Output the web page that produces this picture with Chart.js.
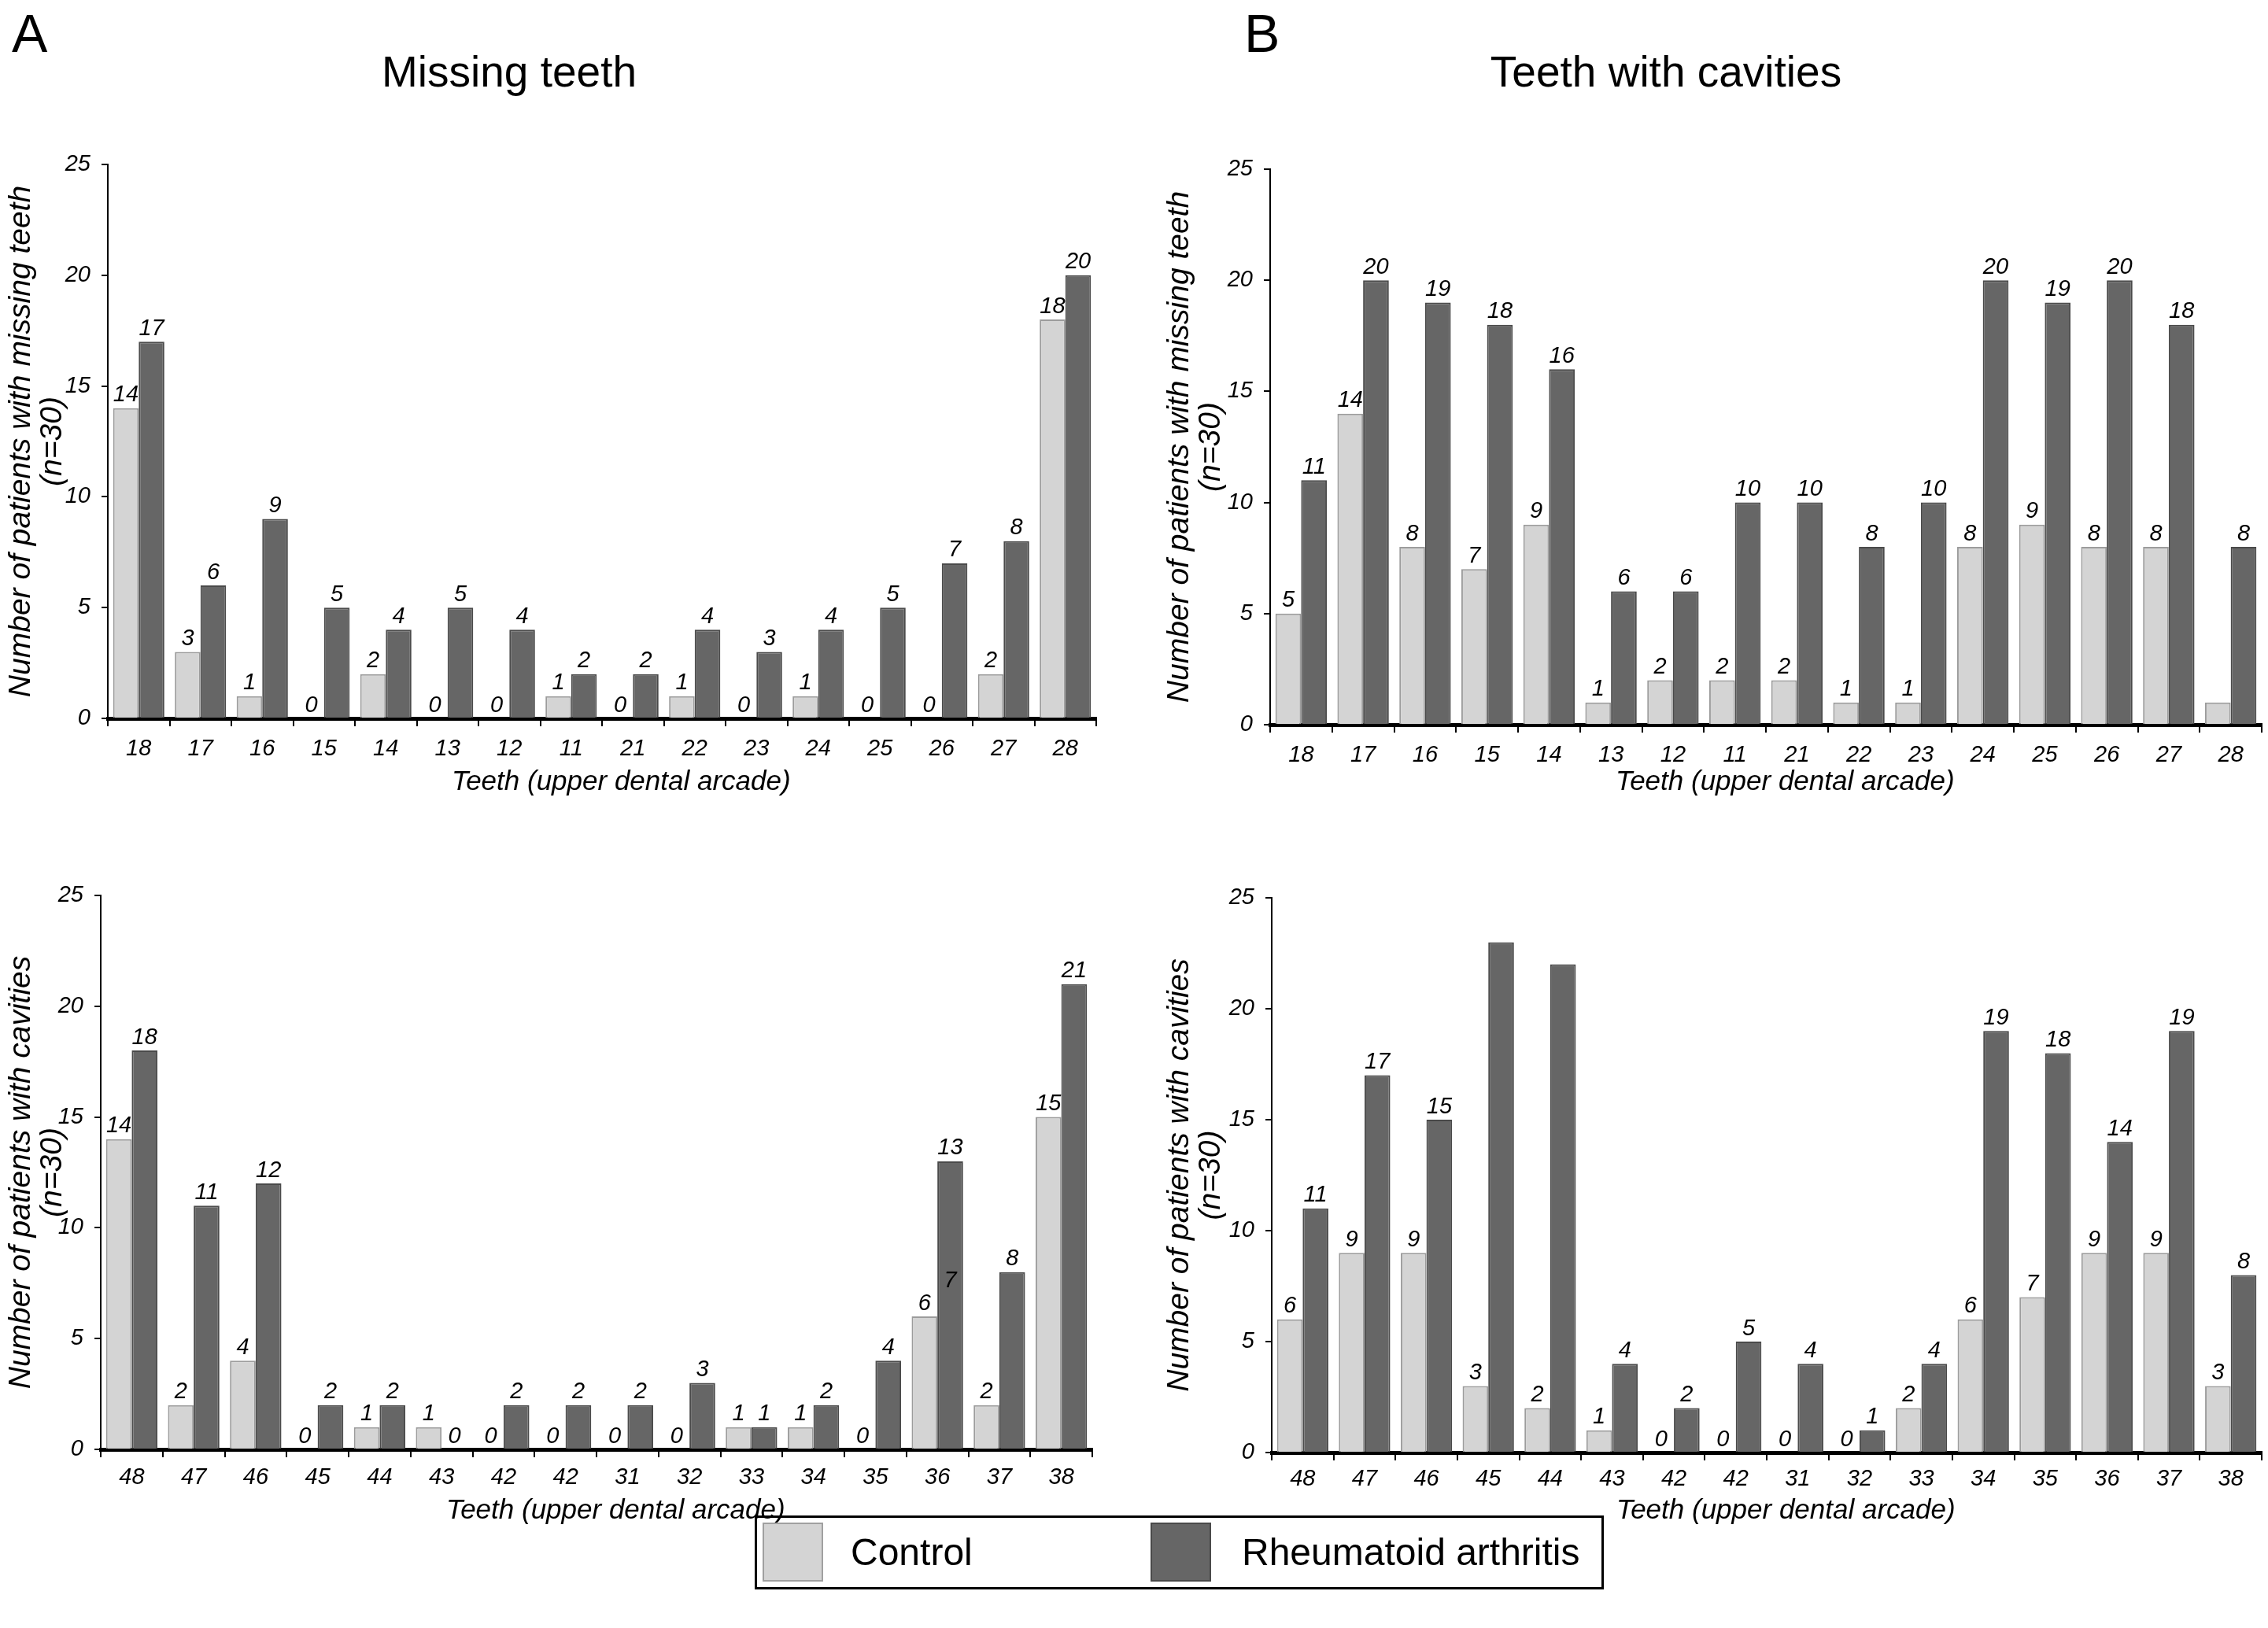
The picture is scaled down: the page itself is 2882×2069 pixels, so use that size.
<!DOCTYPE html>
<html lang="en">
<head>
  <meta charset="UTF-8">
  <title>Missing teeth / Teeth with cavities</title>
  <script src="https://cdn.jsdelivr.net/npm/chart.js@4.4.1/dist/chart.umd.min.js"></script>
  <style>
    html, body { margin: 0; padding: 0; background: #fff; }
    body { width: 2882px; height: 2069px; position: relative; overflow: hidden; font-family: "Liberation Sans", Arial, sans-serif; }
    .panel { position: absolute; }
    .letter { position: absolute; font-size: 68px; line-height: 68px; }
    .title { position: absolute; font-size: 55px; line-height: 55px; transform: translateX(-50%); white-space: nowrap; }
    .legend { position: absolute; left: 959px; top: 1926px; width: 1073px; height: 88px; border: 3px solid #000; }
    .legend .sw { position: absolute; top: 6px; width: 77px; height: 75px; box-sizing: border-box; }
    .legend .txt { position: absolute; top: 20px; font-size: 48px; line-height: 48px; white-space: nowrap; }
  </style>
</head>
<body>
  <div class="letter" style="left:15px; top:8px;">A</div>
  <div class="letter" style="left:1581px; top:8px;">B</div>
  <div class="title" style="left:647px; top:64px;">Missing teeth</div>
  <div class="title" style="left:2117px; top:64px;">Teeth with cavities</div>

  <div class="panel" id="p1" style="left:0px; top:150px; width:1410px; height:880px;"><canvas id="c1"></canvas></div>
  <div class="panel" id="p2" style="left:1474px; top:150px; width:1408px; height:880px;"><canvas id="c2"></canvas></div>
  <div class="panel" id="p3" style="left:0px; top:1080px; width:1405px; height:876px;"><canvas id="c3"></canvas></div>
  <div class="panel" id="p4" style="left:1474px; top:1080px; width:1408px; height:876px;"><canvas id="c4"></canvas></div>

  <div class="legend">
    <div class="sw" style="left:7px; background:#d4d4d4; border:2px solid #a0a0a0;"></div>
    <div class="txt" style="left:119px;">Control</div>
    <div class="sw" style="left:500px; background:#666; border:2px solid #4a4a4a;"></div>
    <div class="txt" style="left:616px;">Rheumatoid arthritis</div>
  </div>

  <script>
    // categories
    const upperTeeth = ['18', '17', '16', '15', '14', '13', '12', '11', '21', '22', '23', '24', '25', '26', '27', '28'];
    const lowerTeeth = ['48', '47', '46', '45', '44', '43', '42', '42', '31', '32', '33', '34', '35', '36', '37', '38'];

    // A - missing teeth
    const missingUpperControl = [14, 3, 1, 0, 2, 0, 0, 1, 0, 1, 0, 1, 0, 0, 2, 18];
    const missingUpperRA = [17, 6, 9, 5, 4, 5, 4, 2, 2, 4, 3, 4, 5, 7, 8, 20];
    const missingLowerControl = [14, 2, 4, 0, 1, 1, 0, 0, 0, 0, 1, 1, 0, 6, 2, 15];
    const missingLowerRA = [18, 11, 12, 2, 2, 0, 2, 2, 2, 3, 1, 2, 4, 13, 8, 21];

    // B - teeth with cavities
    const cavUpperControl = [5, 14, 8, 7, 9, 1, 2, 2, 2, 1, 1, 8, 9, 8, 8, 1];
    const cavUpperRA = [11, 20, 19, 18, 16, 6, 6, 10, 10, 8, 10, 20, 19, 20, 18, 8];
    const cavLowerControl = [6, 9, 9, 3, 2, 1, 0, 0, 0, 0, 2, 6, 7, 9, 9, 3];
    const cavLowerRA = [11, 17, 15, 23, 22, 4, 2, 5, 4, 1, 4, 19, 18, 14, 19, 8];

    // value labels that the original leaves out, and one stray label
    const cavUpperHiddenControl = [15];
    const cavLowerHiddenRA = [3, 4];
    const missingLowerStray = [{ dataset: 1, index: 13, value: 7, text: '7' }];

    const yMax = 25;
    const yStep = 5;

    const FONT = '"Liberation Sans", Arial, sans-serif';
    // leading spaces nudge the centred axis title a bit to the right, as in the original
    const xTitle = '     Teeth (upper dental arcade)';

    // draws the italic numbers above the bars
    const barLabels = {
      id: 'barLabels',
      afterDatasetsDraw(chart, args, opts) {
        const ctx = chart.ctx;
        ctx.save();
        ctx.font = 'italic 29px ' + FONT;
        ctx.fillStyle = '#000';
        ctx.textAlign = 'center';
        ctx.textBaseline = 'bottom';
        chart.data.datasets.forEach((ds, di) => {
          const skip = (opts.hide && opts.hide[di]) || [];
          chart.getDatasetMeta(di).data.forEach((el, i) => {
            if (skip.includes(i)) return;
            ctx.fillText(String(ds.data[i]), el.x, el.y - 2);
          });
        });
        (opts.extra || []).forEach(e => {
          const el = chart.getDatasetMeta(e.dataset).data[e.index];
          ctx.fillText(e.text, el.x, chart.scales.y.getPixelForValue(e.value) - 2);
        });
        ctx.restore();
      }
    };

    function makeChart(id, labels, control, ra, cfg) {
      const ctx = document.getElementById(id).getContext('2d');
      return new Chart(ctx, {
        type: 'bar',
        data: {
          labels: labels,
          datasets: [
            { label: 'Control', data: control, backgroundColor: '#d4d4d4', borderColor: '#9c9c9c', borderWidth: 2 },
            { label: 'Rheumatoid arthritis', data: ra, backgroundColor: '#666666', borderColor: '#4a4a4a', borderWidth: 2 }
          ]
        },
        options: {
          responsive: true,
          maintainAspectRatio: false,
          animation: false,
          devicePixelRatio: 1,
          categoryPercentage: 0.83,
          barPercentage: 1.0,
          layout: { padding: { top: cfg.padTop, right: cfg.padRight, left: 0, bottom: 0 } },
          plugins: {
            legend: { display: false },
            tooltip: { enabled: false },
            barLabels: { hide: cfg.hide || {}, extra: cfg.extra || [] }
          },
          scales: {
            x: {
              offset: true,
              grid: { display: true, drawOnChartArea: false, drawTicks: true, tickLength: 10, color: '#000', lineWidth: 2, offset: true },
              border: { display: true, color: '#000', width: 5 },
              ticks: { color: '#000', padding: cfg.xTickPad, font: { family: FONT, size: 29, style: 'italic' }, maxRotation: 0, autoSkip: false },
              title: { display: true, text: xTitle, color: '#000', font: { family: FONT, size: 35, style: 'italic' }, padding: { top: 0, bottom: 15 } },
              afterFit: s => { s.height = cfg.xHeight; }
            },
            y: {
              min: 0,
              max: yMax,
              grid: { display: true, drawOnChartArea: false, drawTicks: true, tickLength: 8, color: '#000', lineWidth: 2 },
              border: { display: true, color: '#000', width: 2 },
              ticks: { stepSize: yStep, color: '#000', padding: 14, font: { family: FONT, size: 29, style: 'italic' } },
              title: { display: true, text: cfg.yTitle, color: '#000', font: { family: FONT, size: 39, style: 'italic', lineHeight: 1.03 }, padding: { top: cfg.yTitlePad, bottom: 0 } },
              afterFit: s => { s.width = cfg.yWidth; s.paddingTop = 0; s.paddingBottom = 0; }
            }
          }
        },
        plugins: [barLabels]
      });
    }

    makeChart('c1', upperTeeth, missingUpperControl, missingUpperRA, {
      padTop: 59, padRight: 17, yWidth: 137, xHeight: 117, xTickPad: 12, yTitlePad: 7,
      yTitle: ['Number of patients with missing teeth', '(n=30)']
    });
    makeChart('c2', upperTeeth, cavUpperControl, cavUpperRA, {
      padTop: 65, padRight: 8, yWidth: 140, xHeight: 109, xTickPad: 12, yTitlePad: 5,
      yTitle: ['Number of patients with missing teeth', '(n=30)'],
      hide: { 0: cavUpperHiddenControl }
    });
    makeChart('c3', lowerTeeth, missingLowerControl, missingLowerRA, {
      padTop: 58, padRight: 17, yWidth: 128, xHeight: 114, xTickPad: 9, yTitlePad: 7,
      yTitle: ['Number of patients with cavities', '(n=30)'],
      extra: missingLowerStray
    });
    makeChart('c4', lowerTeeth, cavLowerControl, cavLowerRA, {
      padTop: 61, padRight: 8, yWidth: 142, xHeight: 110, xTickPad: 7, yTitlePad: 5,
      yTitle: ['Number of patients with cavities', '(n=30)'],
      hide: { 1: cavLowerHiddenRA }
    });
  </script>
</body>
</html>
